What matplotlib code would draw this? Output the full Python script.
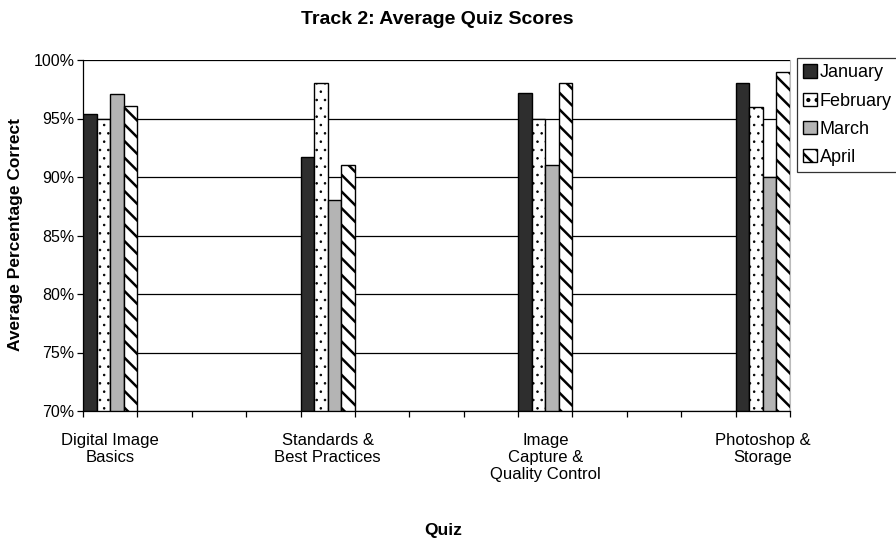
import numpy as np
import matplotlib
matplotlib.use("Agg")
import matplotlib.pyplot as plt
from matplotlib.ticker import FuncFormatter

plt.rcParams['font.family'] = ['Liberation Sans', 'DejaVu Sans']
plt.rcParams['hatch.linewidth'] = 1.8

# data
quizzes = ["Digital Image\nBasics", "Standards &\nBest Practices",
           "Image\nCapture &\nQuality Control", "Photoshop &\nStorage"]
months = ["January", "February", "March", "April"]
january = [95.4, 91.7, 97.2, 98.0]
february = [95.0, 98.0, 95.0, 96.0]
march = [97.1, 88.0, 91.0, 90.0]
april = [96.1, 91.0, 98.0, 99.0]

series = [january, february, march, april]
styles = [
    dict(color="#2e2e2e", hatch=None, hlw=1.8),
    dict(color="white", hatch="..", hlw=0.6),
    dict(color="#b4b4b4", hatch=None, hlw=1.8),
    dict(color="white", hatch="\\\\", hlw=1.8),
]

SLOT = 4          # each quiz sits in every 4th slot on the axis
N_SLOTS = 13
BAR_W = 0.25

fig = plt.figure(figsize=(8.96, 5.41), dpi=100)
ax = fig.add_axes([83 / 896, 1 - 411 / 541, (790 - 83) / 896, (411 - 60) / 541])

centers = np.arange(len(quizzes)) * SLOT
for k, (vals, st) in enumerate(zip(series, styles)):
    x = centers - 0.5 + BAR_W * (k + 0.5)
    bars = ax.bar(x, np.array(vals) - 70, bottom=70, width=BAR_W, label=months[k],
                  facecolor=st["color"], edgecolor="black", hatch=st["hatch"],
                  linewidth=1.0, zorder=3)
    for b in bars:
        if hasattr(b, "set_hatch_linewidth"):
            b.set_hatch_linewidth(st["hlw"])

ax.set_ylim(70, 100)
ax.set_xlim(-0.5, N_SLOTS - 0.5)
ax.set_yticks(np.arange(70, 101, 5))
ax.yaxis.set_major_formatter(FuncFormatter(lambda v, p: f"{v:.0f}%"))
ax.yaxis.grid(True, color="black", linewidth=0.9, zorder=0)

ax.set_xticks(centers)
ax.set_xticklabels(quizzes, fontsize=12, linespacing=1.15)
ax.set_xticks(np.arange(N_SLOTS + 1) - 0.5, minor=True)
ax.tick_params(axis="x", which="major", length=0, pad=16)
ax.tick_params(axis="x", which="minor", length=4, width=0.9, direction="out")
ax.tick_params(axis="y", length=4, width=0.9, labelsize=11.5, pad=2)

ax.spines["top"].set_visible(False)
ax.spines["right"].set_color("#bbbbbb")
ax.spines["left"].set_linewidth(0.9)
ax.spines["bottom"].set_linewidth(0.9)

fig.text(437 / 896, 1 - 20 / 541, "Track 2: Average Quiz Scores",
         ha="center", va="center", fontsize=14, fontweight="bold")
fig.text(443 / 896, 1 - 531 / 541, "Quiz", ha="center", va="center",
         fontsize=12.5, fontweight="bold")
fig.text(16 / 896, 1 - 235 / 541, "Average Percentage Correct", rotation=90,
         ha="center", va="center", fontsize=12.5, fontweight="bold")

leg = ax.legend(loc="upper left", bbox_to_anchor=(797 / 896, 1 - 58 / 541),
                bbox_transform=fig.transFigure, frameon=True, fancybox=False,
                fontsize=13, handlelength=0.75, handleheight=0.75,
                handletextpad=0.15, labelspacing=0.62, borderpad=0.35,
                borderaxespad=0)
leg.get_frame().set_edgecolor("black")
leg.get_frame().set_linewidth(0.9)

fig.savefig("out.png", dpi=100)
